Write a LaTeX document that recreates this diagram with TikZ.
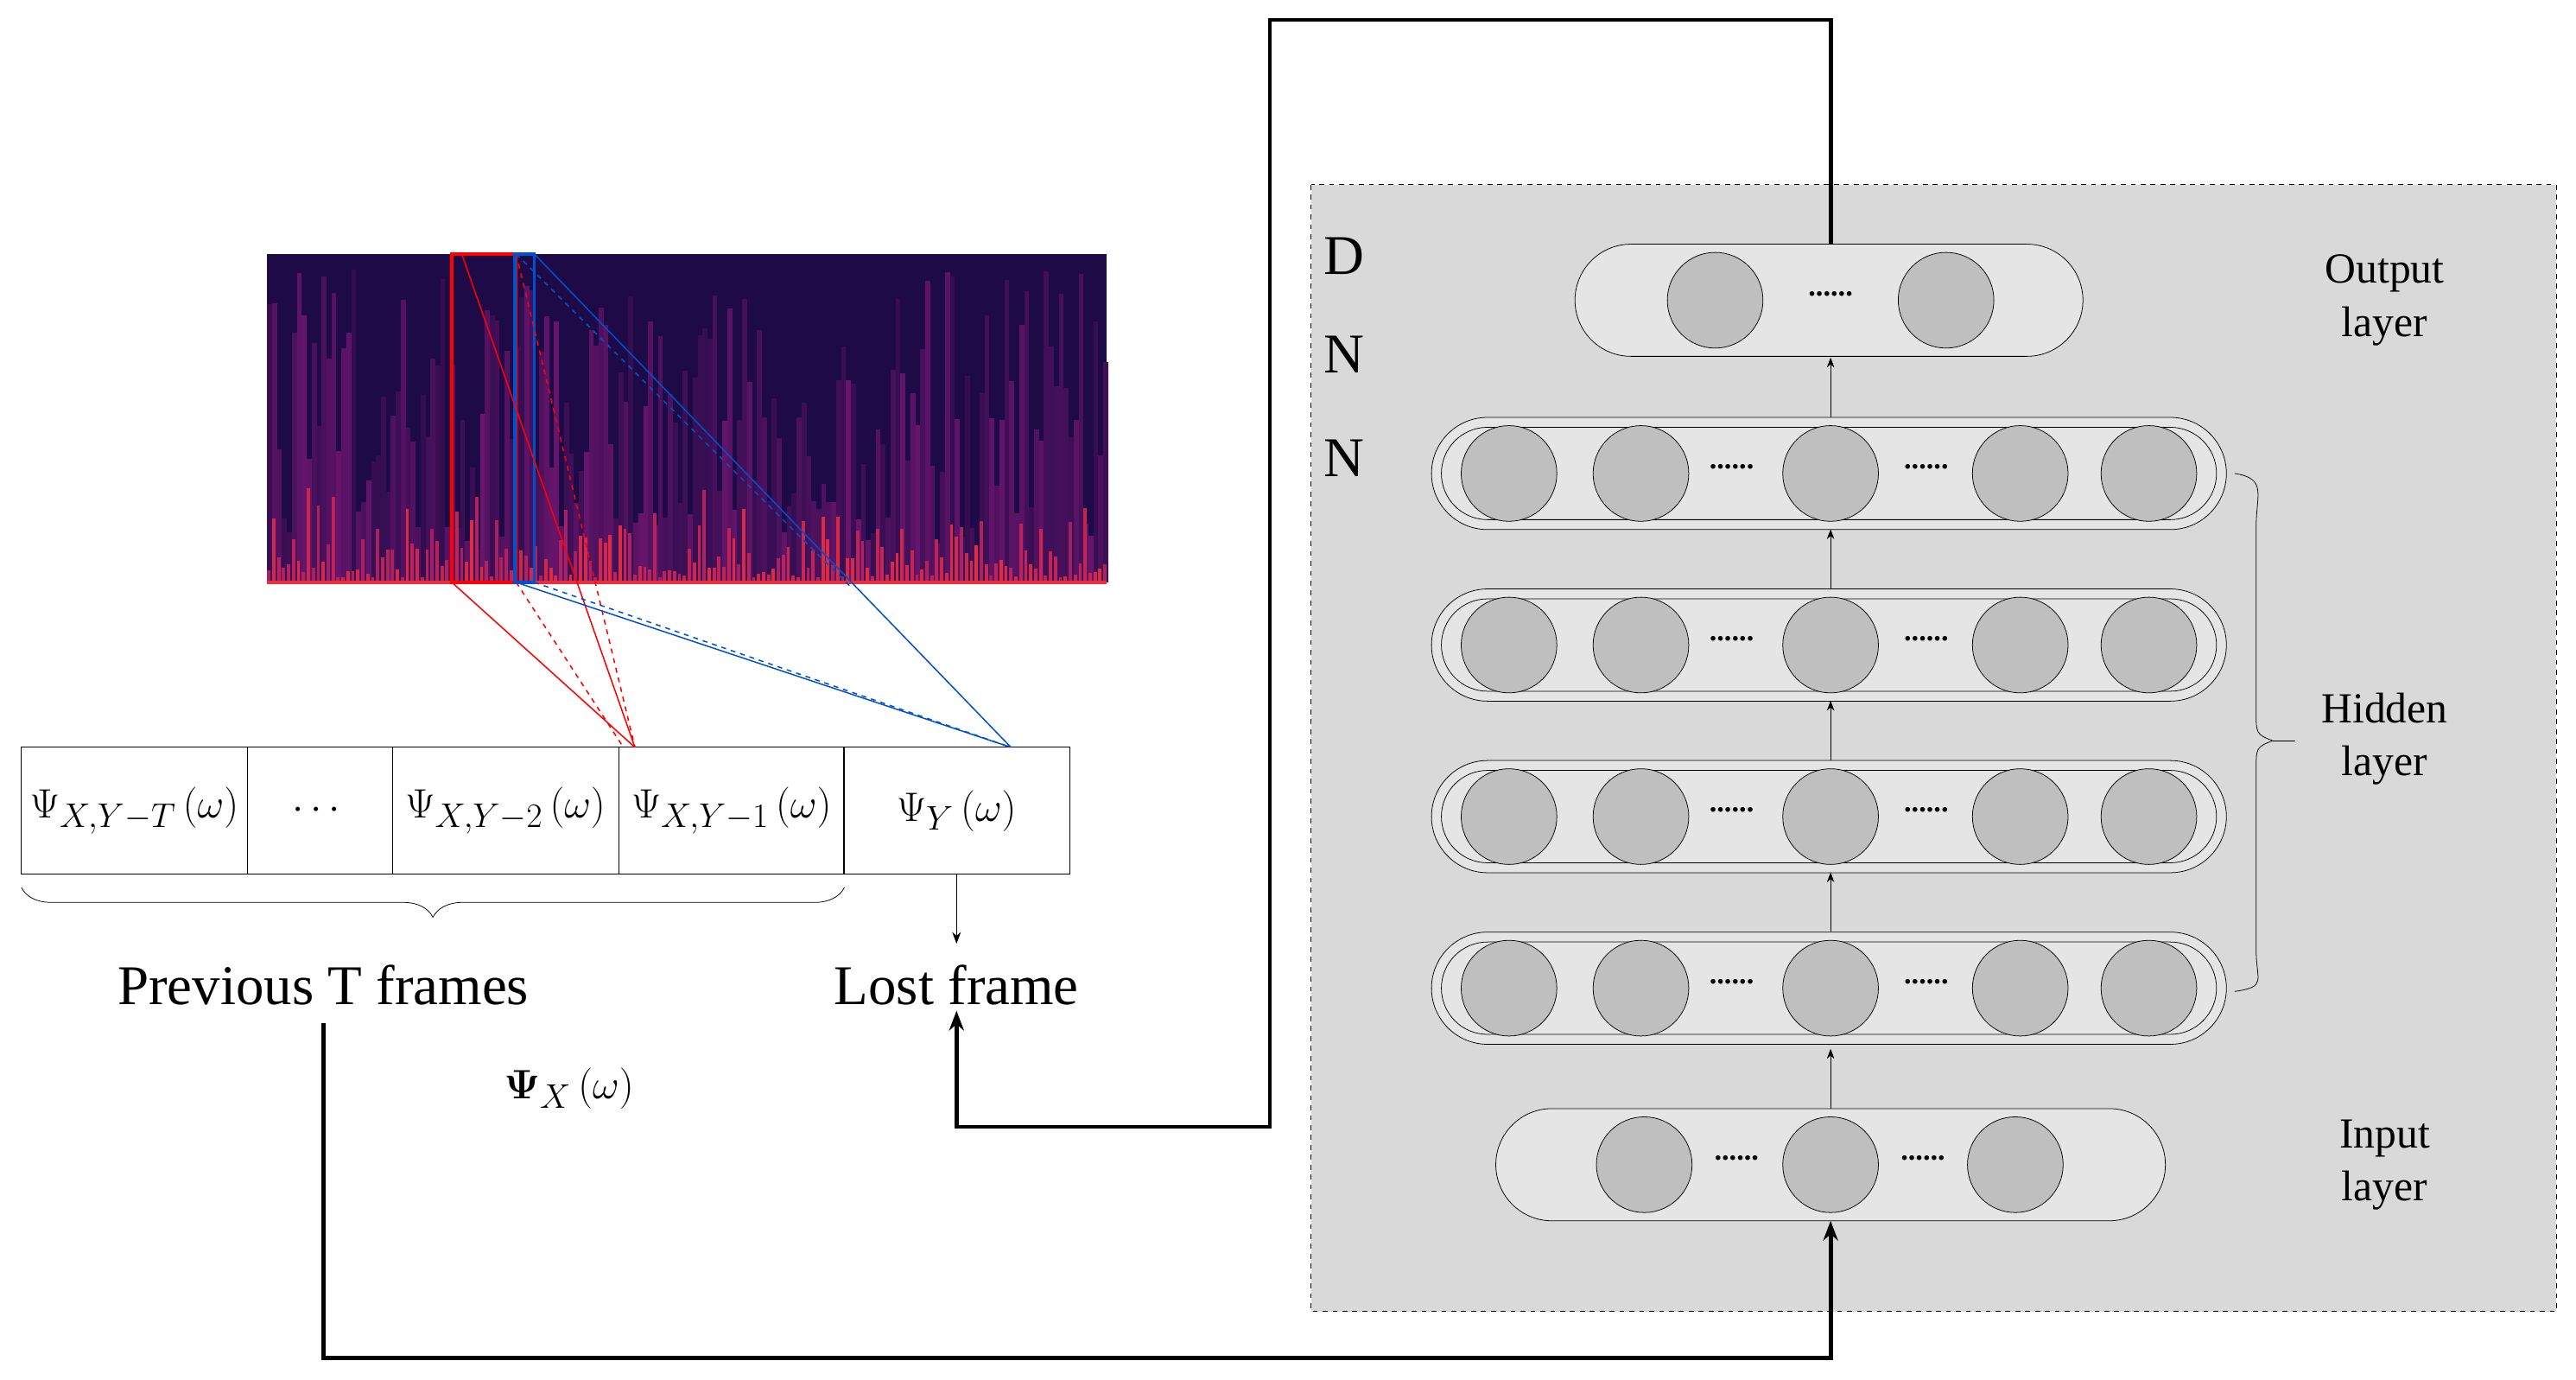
\documentclass[tikz,border=0pt]{standalone}
\usepackage{amsmath}
\usepackage{fontspec}
\setmainfont{Liberation Serif}
\usetikzlibrary{arrows.meta,decorations.pathreplacing}
\definecolor{specbg}{RGB}{30,10,70}
\definecolor{specmid}{RGB}{130,25,120}
\definecolor{spechot}{RGB}{235,45,60}
\begin{document}
\begin{tikzpicture}[x=1pt,y=-1pt,
  neuron/.style={circle,draw,fill=black!25,minimum size=58pt,inner sep=0pt},
  capsule/.style={draw,rounded corners=34pt,fill=black!10},
  thick link/.style={line width=2.5pt},
  lab/.style={font=\fontsize{26}{32}\selectfont,align=center},
  frm/.style={draw,minimum width=137pt,minimum height=77pt,inner sep=0pt,font=\fontsize{29}{32}\selectfont},
  dots/.style={font=\bfseries\fontsize{18}{20}\selectfont},
  lay/.style={-{Stealth[length=6pt]}}]
\useasboundingbox (0,0) rectangle (1562,836);
% spectrogram
\fill[specbg] (162,154) rectangle (671,353);
\pgfmathsetseed{7}
\foreach \i in {0,...,169}{
  \pgfmathsetmacro{\xx}{162+\i*3}
  \pgfmathsetmacro{\hh}{20+rnd*170}
  \pgfmathsetmacro{\cc}{20+rnd*55}
  \fill[specmid!\cc!specbg] (\xx,353) rectangle ++(3,-\hh);
  \pgfmathsetmacro{\hb}{3+rnd*rnd*60}
  \pgfmathsetmacro{\cb}{30+rnd*60}
  \fill[spechot!\cb!specmid] (\xx,353) rectangle ++(2,-\hb);
}
\draw[spechot,line width=2pt] (162,353)--(671,353);
\draw[red,line width=2pt] (274,154) rectangle (313,353);
\draw[blue!60!cyan!80!black,line width=2pt] (312,154) rectangle (324,353);
% frames
\node[frm] (f1) at (81.5,491.5) {$\Psi_{X,Y-T}\,(\omega)$};
\node[frm,minimum width=88pt] (f2) at (194,491.5) {$\cdots$};
\node[frm] (f3) at (306.5,491.5) {$\Psi_{X,Y-2}\,(\omega)$};
\node[frm] (f4) at (443.5,491.5) {$\Psi_{X,Y-1}\,(\omega)$};
\node[frm] (f5) at (580,491.5) {$\Psi_{Y}\,(\omega)$};
\coordinate (rp) at (385,453);
\coordinate (bp) at (613,453);
\draw[red,thick] (274,353)--(rp) (280,154)--(rp);
\draw[red,thick,dashed] (313,353)--(378,453) (313,154)--(rp);
\draw[blue!60!cyan!80!black,thick] (313,353)--(bp) (324,154)--(bp);
\draw[blue!60!cyan!80!black,thick,dashed] (324,353)--(bp) (313,154)--(515,355);
\draw[decorate,decoration={brace,amplitude=18pt,mirror}] (13,538)--(512,538);
\node[font=\fontsize{34}{38}\selectfont] (prev) at (196,597) {Previous T frames};
\node[font=\fontsize{34}{38}\selectfont] (lost) at (580,597) {Lost frame};
\draw[-{Stealth[length=7pt]}] (f5.south)--(580,572);
\node[font=\fontsize{30}{34}\selectfont] at (345,660) {$\boldsymbol{\Psi}_{X}\,(\omega)$};
% DNN box
\draw[dashed,fill=black!15] (795,112) rectangle (1550,795);
\node[font=\fontsize{34}{38}\selectfont] at (815,155) {D};
\node[font=\fontsize{34}{38}\selectfont] at (815,215) {N};
\node[font=\fontsize{34}{38}\selectfont] at (815,278) {N};
% output layer
\draw[capsule] (955,148) rectangle (1263,216);
\node[neuron] (o1) at (1040,182) {};
\node[neuron] (o2) at (1180,182) {};
\node[dots] (oc) at (1110,178) {......};
% hidden layers
\foreach \y/\n in {287/h4,391/h3,495/h2,599/h1}{
  \draw[fill=black!10,rounded corners=34pt] (868,\y-34) rectangle (1350,\y+34);
  \draw[rounded corners=28pt] (874,\y-28) rectangle (1344,\y+28);
  \foreach \x/\k in {915/a,995/b,1110/c,1225/d,1303/e}{\node[neuron] (\n\k) at (\x,\y) {};}
  \node[dots] at (1050,\y-4) {......};
  \node[dots] at (1168,\y-4) {......};
}
% input layer
\draw[capsule] (907,672) rectangle (1313,740);
\node[neuron] (i1) at (997,706) {};
\node[neuron] (ic) at (1110,706) {};
\node[neuron] (i3) at (1222,706) {};
\node[dots] at (1053,702) {......};
\node[dots] at (1166,702) {......};
\coordinate (ib) at (1110,740);
\coordinate (ot) at (1110,148);
% arrows between layers
\foreach \a in {ic,h1c,h2c,h3c,h4c}{
  \path (\a.north) ++(0,-5) coordinate (s);
  \draw[lay] (s) -- ++(0,-36);}
% brace hidden
\draw (1355,287) .. controls (1375,290) and (1368,300) .. (1368,320) -- (1368,430) .. controls (1368,445) .. (1378,449) .. controls (1368,453) .. (1368,468) -- (1368,575) .. controls (1368,595) and (1375,598) .. (1355,601);
\draw (1378,449)--(1392,449);
\node[lab] at (1446,182) {Output\\layer};
\node[lab] at (1446,448) {Hidden\\layer};
\node[lab] at (1446,706) {Input\\layer};
% thick connectors
\draw[thick link,-{Stealth[length=12pt]}] (196,620)--(196,823)--(1110,823)--(ib);
\draw[thick link,-{Stealth[length=12pt]}] (ot)--(1110,12)--(770,12)--(770,683)--(580,683)--(lost.south);
\end{tikzpicture}
\end{document}
